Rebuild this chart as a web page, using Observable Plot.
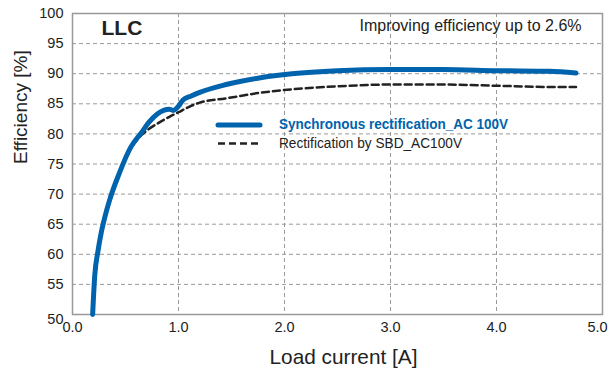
<!DOCTYPE html>
<html>
<head>
<meta charset="utf-8">
<script src="https://cdn.jsdelivr.net/npm/d3@7"></script>
<script src="https://cdn.jsdelivr.net/npm/@observablehq/plot@0.6"></script>
<style>
  html, body { margin: 0; padding: 0; background: #fff; }
  #chart svg { display: block; }
</style>
</head>
<body>
<div id="chart"></div>
<script>
// Synchronous rectification (AC 100V): load current [A] and efficiency [%]
const syncX = [0.19, 0.21, 0.24, 0.27, 0.31, 0.35, 0.44, 0.55, 0.65, 0.72, 0.80, 0.86, 0.91, 0.95, 1.00, 1.04, 1.12, 1.20, 1.45, 1.76, 2.07, 2.50, 3.00, 3.50, 4.00, 4.50, 4.75];
const syncY = [50.0, 56.5, 60.5, 63.5, 66.5, 69.0, 73.4, 77.8, 80.2, 81.9, 83.3, 83.9, 84.1, 83.9, 84.6, 85.6, 86.3, 86.9, 88.2, 89.3, 90.0, 90.5, 90.7, 90.7, 90.5, 90.4, 90.1];
// Rectification by SBD (AC 100V)
const sbdX = [0.19, 0.21, 0.24, 0.27, 0.31, 0.35, 0.44, 0.55, 0.65, 0.72, 0.79, 0.91, 1.00, 1.10, 1.20, 1.45, 1.76, 2.07, 2.50, 3.00, 3.50, 4.00, 4.50, 4.75];
const sbdY = [50.0, 56.0, 60.0, 63.3, 66.3, 68.8, 73.2, 77.5, 79.8, 80.8, 81.6, 82.8, 83.6, 84.5, 85.2, 85.9, 86.8, 87.4, 87.9, 88.2, 88.2, 88.0, 87.8, 87.8];

const xTicks = [0, 1, 2, 3, 4];
const xTickLast = [5];
const yTicks = [55, 60, 65, 70, 75, 80, 85, 90, 95, 100];
const yTickLow = [50];
const seriesNames = ["Synchronous rectification_AC 100V", "Rectification by SBD_AC100V"];
const titleText = "LLC";
const noteText = "Improving efficiency up to 2.6%";
const xLabel = "Load current [A]";
const yLabel = "Efficiency [%]";

const BLUE = "#0063ad";
const syncData = syncX.map((x, i) => ({x, y: syncY[i]}));
const sbdData = sbdX.map((x, i) => ({x, y: sbdY[i]}));
const legendItems = [
  {label: seriesNames[0], color: BLUE, width: 5, dash: null, weight: "bold", textColor: BLUE, len: 229},
  {label: seriesNames[1], color: "#222", width: 2.6, dash: "7,4", weight: "normal", textColor: "#222", len: 183}
];

function legendMark(index, scales, values, dimensions) {
  const g = d3.create("svg:g")
    .attr("font-family", "Liberation Sans, Arial, sans-serif")
    .attr("text-anchor", "start");
  const x0 = dimensions.marginLeft + 146;
  const y0 = dimensions.marginTop + 111;
  legendItems.forEach((d, i) => {
    const y = y0 + i * 18.5;
    g.append("line")
      .attr("x1", x0).attr("x2", x0 + 42).attr("y1", y + 1).attr("y2", y + 1)
      .attr("stroke", d.color).attr("stroke-width", d.width)
      .attr("stroke-linecap", d.dash ? "butt" : "round")
      .attr("stroke-dasharray", d.dash);
    g.append("text")
      .attr("x", x0 + 61).attr("y", y).attr("dy", "0.35em")
      .attr("font-size", 15.5).attr("font-weight", d.weight)
      .attr("fill", d.textColor)
      .attr("textLength", d.len).attr("lengthAdjust", "spacingAndGlyphs")
      .text(d.label);
  });
  return g.node();
}

const tickFmtX = d3.format(".1f");
const chart = Plot.plot({
  width: 610,
  height: 374,
  marginLeft: 72,
  marginRight: 8,
  marginTop: 13,
  marginBottom: 60,
  style: {fontFamily: "Liberation Sans, Arial, sans-serif", color: "#222", background: "#fff"},
  x: {domain: [0, 5]},
  y: {domain: [50, 100]},
  marks: [
    Plot.gridX({ticks: [1, 2, 3, 4], stroke: "#9a9a9a", strokeOpacity: 1, strokeDasharray: "4,3"}),
    Plot.gridY({ticks: [55, 60, 65, 70, 75, 80, 85, 90, 95], stroke: "#9a9a9a", strokeOpacity: 1, strokeDasharray: "4,3"}),
    Plot.frame({stroke: "#999", strokeWidth: 1.5}),
    Plot.axisX({ticks: xTicks, tickFormat: tickFmtX, tickSize: 0, tickPadding: 7, fontSize: 14.5, label: null}),
    Plot.axisX({ticks: xTickLast, tickFormat: tickFmtX, tickSize: 0, tickPadding: 7, fontSize: 14.5, label: null, dx: -5}),
    Plot.axisY({ticks: yTicks, tickFormat: d3.format("d"), tickSize: 0, tickPadding: 9, fontSize: 14.5, label: null}),
    Plot.axisY({ticks: yTickLow, tickFormat: d3.format("d"), tickSize: 0, tickPadding: 9, fontSize: 14.5, label: null, dy: 5}),
    Plot.line(sbdData, {x: "x", y: "y", stroke: "#222", strokeWidth: 2.5, strokeDasharray: "7,4", curve: "monotone-x"}),
    Plot.line(syncData, {x: "x", y: "y", stroke: BLUE, strokeWidth: 5, strokeLinecap: "round", curve: "monotone-x"}),
    Plot.text([titleText], {text: d => d, frameAnchor: "top-left", dx: 29, dy: 15, fontSize: 21, fontWeight: "bold", fill: "#222", textAnchor: "start", lineAnchor: "middle"}),
    Plot.text([noteText], {text: d => d, frameAnchor: "top-right", dx: -21, dy: 12, fontSize: 16, fill: "#222", textAnchor: "end", lineAnchor: "middle"}),
    Plot.text([xLabel], {text: d => d, frameAnchor: "bottom", dy: 43, dx: 6, fontSize: 20.8, fill: "#222", lineAnchor: "middle"}),
    Plot.text([yLabel], {text: d => d, frameAnchor: "left", dx: -52, rotate: -90, fontSize: 19, fill: "#222", lineAnchor: "middle"}),
    legendMark
  ]
});
document.getElementById("chart").appendChild(chart);
</script>
</body>
</html>
